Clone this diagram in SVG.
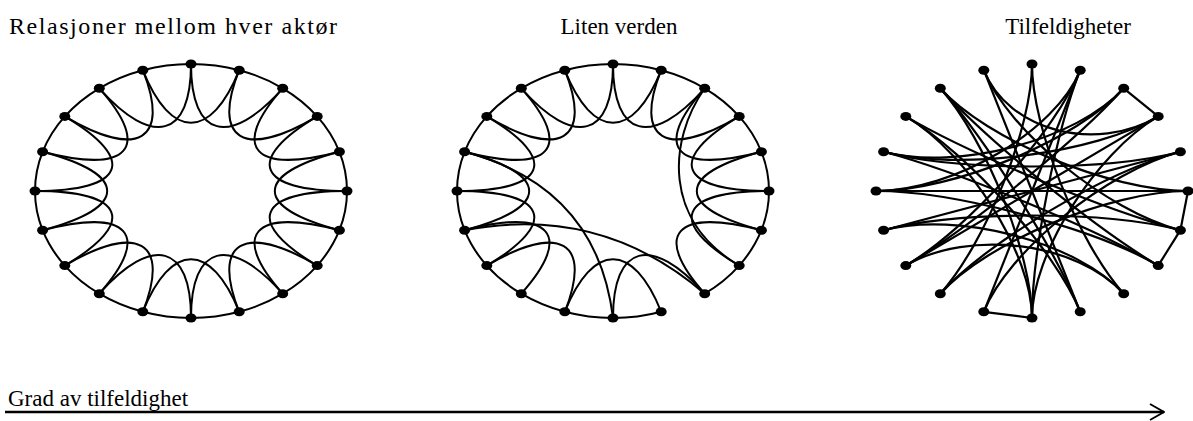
<svg xmlns="http://www.w3.org/2000/svg" width="1193" height="421" viewBox="0 0 1193 421">
<style>
.e{fill:none;stroke:#000;stroke-width:2}
.r{fill:none;stroke:#000;stroke-width:2.2}
.n{fill:#000}
.t{font-family:'Liberation Serif','Times New Roman',serif;font-size:23px;fill:#000}
</style>
<defs>
<marker id="chev" markerUnits="userSpaceOnUse" viewBox="0 0 16 18" refX="15" refY="9" markerWidth="16" markerHeight="18" orient="auto">
<path d="M1,1 L15,9 L1,17" fill="none" stroke="#000" stroke-width="2"/>
</marker>
</defs>
<rect width="1193" height="421" fill="#fff"/>
<g id="titles" font-family="Liberation Serif, Times New Roman, serif">
<text class="t" x="9" y="34" style="font-size:24px" textLength="328" lengthAdjust="spacing">Relasjoner mellom hver aktør</text>
<text class="t" x="619" y="34" text-anchor="middle">Liten verden</text>
<text class="t" x="1068" y="34" text-anchor="middle">Tilfeldigheter</text>
</g>
<g id="connectors">
<g id="g1-edges" transform="translate(191,191)">
<path class="e" d="M0,-127A156,127 0 0 1 48.2,-120.8"/>
<path class="e" d="M48.2,-120.8A156,127 0 0 1 91.7,-102.7"/>
<path class="e" d="M91.7,-102.7A156,127 0 0 1 126.2,-74.6"/>
<path class="e" d="M126.2,-74.6A156,127 0 0 1 148.4,-39.2"/>
<path class="e" d="M148.4,-39.2A156,127 0 0 1 156,0"/>
<path class="e" d="M156,0A156,127 0 0 1 148.4,39.2"/>
<path class="e" d="M148.4,39.2A156,127 0 0 1 126.2,74.6"/>
<path class="e" d="M126.2,74.6A156,127 0 0 1 91.7,102.7"/>
<path class="e" d="M91.7,102.7A156,127 0 0 1 48.2,120.8"/>
<path class="e" d="M48.2,120.8A156,127 0 0 1 0,127"/>
<path class="e" d="M0,127A156,127 0 0 1 -48.2,120.8"/>
<path class="e" d="M-48.2,120.8A156,127 0 0 1 -91.7,102.7"/>
<path class="e" d="M-91.7,102.7A156,127 0 0 1 -126.2,74.6"/>
<path class="e" d="M-126.2,74.6A156,127 0 0 1 -148.4,39.2"/>
<path class="e" d="M-148.4,39.2A156,127 0 0 1 -156,0"/>
<path class="e" d="M-156,0A156,127 0 0 1 -148.4,-39.2"/>
<path class="e" d="M-148.4,-39.2A156,127 0 0 1 -126.2,-74.6"/>
<path class="e" d="M-126.2,-74.6A156,127 0 0 1 -91.7,-102.7"/>
<path class="e" d="M-91.7,-102.7A156,127 0 0 1 -48.2,-120.8"/>
<path class="e" d="M-48.2,-120.8A156,127 0 0 1 0,-127"/>
<path class="e" d="M0,-127C0,-53.3 38.5,-43.1 91.7,-102.7"/>
<path class="e" d="M48.2,-120.8C20.2,-50.7 53,-31.3 126.2,-74.6"/>
<path class="e" d="M91.7,-102.7C38.5,-43.1 62.3,-16.5 148.4,-39.2"/>
<path class="e" d="M126.2,-74.6C53,-31.3 65.5,0 156,0"/>
<path class="e" d="M148.4,-39.2C62.3,-16.5 62.3,16.5 148.4,39.2"/>
<path class="e" d="M156,0C65.5,0 53,31.3 126.2,74.6"/>
<path class="e" d="M148.4,39.2C62.3,16.5 38.5,43.1 91.7,102.7"/>
<path class="e" d="M126.2,74.6C53,31.3 20.2,50.7 48.2,120.8"/>
<path class="e" d="M91.7,102.7C38.5,43.1 0,53.3 0,127"/>
<path class="e" d="M48.2,120.8C20.2,50.7 -20.2,50.7 -48.2,120.8"/>
<path class="e" d="M0,127C0,53.3 -38.5,43.1 -91.7,102.7"/>
<path class="e" d="M-48.2,120.8C-20.2,50.7 -53,31.3 -126.2,74.6"/>
<path class="e" d="M-91.7,102.7C-38.5,43.1 -62.3,16.5 -148.4,39.2"/>
<path class="e" d="M-126.2,74.6C-53,31.3 -65.5,0 -156,0"/>
<path class="e" d="M-148.4,39.2C-62.3,16.5 -62.3,-16.5 -148.4,-39.2"/>
<path class="e" d="M-156,0C-65.5,0 -53,-31.3 -126.2,-74.6"/>
<path class="e" d="M-148.4,-39.2C-62.3,-16.5 -38.5,-43.1 -91.7,-102.7"/>
<path class="e" d="M-126.2,-74.6C-53,-31.3 -20.2,-50.7 -48.2,-120.8"/>
<path class="e" d="M-91.7,-102.7C-38.5,-43.1 0,-53.3 0,-127"/>
<path class="e" d="M-48.2,-120.8C-20.2,-50.7 20.2,-50.7 48.2,-120.8"/>
</g>
<g id="g2-edges" transform="translate(613,191)">
<path class="e" d="M0,-127A156,127 0 0 1 48.2,-120.8"/>
<path class="e" d="M48.2,-120.8A156,127 0 0 1 91.7,-102.7"/>
<path class="e" d="M91.7,-102.7A156,127 0 0 1 126.2,-74.6"/>
<path class="e" d="M126.2,-74.6A156,127 0 0 1 148.4,-39.2"/>
<path class="e" d="M148.4,-39.2A156,127 0 0 1 156,0"/>
<path class="e" d="M156,0A156,127 0 0 1 148.4,39.2"/>
<path class="e" d="M148.4,39.2A156,127 0 0 1 126.2,74.6"/>
<path class="e" d="M126.2,74.6A156,127 0 0 1 91.7,102.7"/>
<path class="e" d="M48.2,120.8A156,127 0 0 1 0,127"/>
<path class="e" d="M0,127A156,127 0 0 1 -48.2,120.8"/>
<path class="e" d="M-48.2,120.8A156,127 0 0 1 -91.7,102.7"/>
<path class="e" d="M-91.7,102.7A156,127 0 0 1 -126.2,74.6"/>
<path class="e" d="M-126.2,74.6A156,127 0 0 1 -148.4,39.2"/>
<path class="e" d="M-148.4,39.2A156,127 0 0 1 -156,0"/>
<path class="e" d="M-156,0A156,127 0 0 1 -148.4,-39.2"/>
<path class="e" d="M-148.4,-39.2A156,127 0 0 1 -126.2,-74.6"/>
<path class="e" d="M-126.2,-74.6A156,127 0 0 1 -91.7,-102.7"/>
<path class="e" d="M-91.7,-102.7A156,127 0 0 1 -48.2,-120.8"/>
<path class="e" d="M-48.2,-120.8A156,127 0 0 1 0,-127"/>
<path class="e" d="M0,-127C0,-53.3 38.5,-43.1 91.7,-102.7"/>
<path class="e" d="M48.2,-120.8C20.2,-50.7 53,-31.3 126.2,-74.6"/>
<path class="e" d="M91.7,-102.7C38.5,-43.1 62.3,-16.5 148.4,-39.2"/>
<path class="e" d="M126.2,-74.6C53,-31.3 65.5,0 156,0"/>
<path class="e" d="M148.4,-39.2C62.3,-16.5 62.3,16.5 148.4,39.2"/>
<path class="e" d="M156,0C65.5,0 53,31.3 126.2,74.6"/>
<path class="e" d="M148.4,39.2C62.3,16.5 38.5,43.1 91.7,102.7"/>
<path class="e" d="M91.7,102.7C38.5,43.1 0,53.3 0,127"/>
<path class="e" d="M48.2,120.8C20.2,50.7 -20.2,50.7 -48.2,120.8"/>
<path class="e" d="M-48.2,120.8C-20.2,50.7 -53,31.3 -126.2,74.6"/>
<path class="e" d="M-91.7,102.7C-38.5,43.1 -62.3,16.5 -148.4,39.2"/>
<path class="e" d="M-126.2,74.6C-53,31.3 -65.5,0 -156,0"/>
<path class="e" d="M-148.4,39.2C-62.3,16.5 -62.3,-16.5 -148.4,-39.2"/>
<path class="e" d="M-156,0C-65.5,0 -53,-31.3 -126.2,-74.6"/>
<path class="e" d="M-148.4,-39.2C-62.3,-16.5 -38.5,-43.1 -91.7,-102.7"/>
<path class="e" d="M-126.2,-74.6C-53,-31.3 -20.2,-50.7 -48.2,-120.8"/>
<path class="e" d="M-91.7,-102.7C-38.5,-43.1 0,-53.3 0,-127"/>
<path class="e" d="M-48.2,-120.8C-20.2,-50.7 20.2,-50.7 48.2,-120.8"/>
<path class="e" d="M91.7,-102.7C55,-50 50,30 126.2,74.6"/>
<path class="e" d="M-148.4,-39.2Q-16,-4 0,127"/>
<path class="e" d="M-148.4,39.2Q-12,13 91.7,102.7"/>
</g>
<g id="g3-edges" transform="translate(1032,191)">
<path class="r" d="M91.7,-102.7L126.2,-74.6"/>
<path class="r" d="M156,0L148.4,39.2"/>
<path class="r" d="M148.4,39.2L126.2,74.6"/>
<path class="r" d="M0,127L-48.2,120.8"/>
<path class="r" d="M0,-127C0,-63.5 -45.9,51.4 -91.7,102.7"/>
<path class="r" d="M0,-127C0,-63.5 45.9,51.4 91.7,102.7"/>
<path class="r" d="M48.2,-120.8C24.1,-60.4 0,63.5 0,127"/>
<path class="r" d="M48.2,-120.8C24.1,-60.4 -24.1,60.4 -48.2,120.8"/>
<path class="r" d="M48.2,-120.8C24.1,-60.4 -63.1,37.3 -126.2,74.6"/>
<path class="r" d="M48.2,-120.8C24.1,-60.4 -78,0 -156,0"/>
<path class="r" d="M91.7,-102.7C45.9,-51.4 -63.1,37.3 -126.2,74.6"/>
<path class="r" d="M91.7,-102.7C45.9,-51.4 -74.2,-19.6 -148.4,-39.2"/>
<path class="r" d="M91.7,-102.7C45.9,-51.4 -78,0 -156,0"/>
<path class="r" d="M126.2,-74.6C63.1,-37.3 -24.1,-60.4 -48.2,-120.8"/>
<path class="r" d="M126.2,-74.6C63.1,-37.3 0,63.5 0,127"/>
<path class="r" d="M126.2,-74.6C63.1,-37.3 -74.2,-19.6 -148.4,-39.2"/>
<path class="r" d="M126.2,-74.6C63.1,-37.3 -63.1,37.3 -126.2,74.6"/>
<path class="r" d="M148.4,-39.2C74.2,-19.6 -74.2,-19.6 -148.4,-39.2"/>
<path class="r" d="M148.4,-39.2C74.2,-19.6 -74.2,19.6 -148.4,39.2"/>
<path class="r" d="M148.4,-39.2C74.2,-19.6 -45.9,51.4 -91.7,102.7"/>
<path class="r" d="M148.4,-39.2C74.2,-19.6 -24.1,60.4 -48.2,120.8"/>
<path class="r" d="M156,0C78,0 -78,0 -156,0"/>
<path class="r" d="M156,0C78,0 -45.9,-51.4 -91.7,-102.7"/>
<path class="r" d="M156,0C78,0 -45.9,51.4 -91.7,102.7"/>
<path class="r" d="M148.4,39.2C74.2,19.6 -63.1,-37.3 -126.2,-74.6"/>
<path class="r" d="M148.4,39.2C74.2,19.6 -24.1,-60.4 -48.2,-120.8"/>
<path class="r" d="M148.4,39.2C74.2,19.6 -74.2,19.6 -148.4,39.2"/>
<path class="r" d="M126.2,74.6C63.1,37.3 -45.9,-51.4 -91.7,-102.7"/>
<path class="r" d="M126.2,74.6C63.1,37.3 -78,0 -156,0"/>
<path class="r" d="M126.2,74.6C63.1,37.3 -74.2,-19.6 -148.4,-39.2"/>
<path class="r" d="M91.7,102.7C45.9,51.4 -74.2,19.6 -148.4,39.2"/>
<path class="r" d="M91.7,102.7C45.9,51.4 -63.1,37.3 -126.2,74.6"/>
<path class="r" d="M48.2,120.8C24.1,60.4 -63.1,-37.3 -126.2,-74.6"/>
<path class="r" d="M48.2,120.8C24.1,60.4 -45.9,-51.4 -91.7,-102.7"/>
<path class="r" d="M48.2,120.8C24.1,60.4 -24.1,-60.4 -48.2,-120.8"/>
<path class="r" d="M0,127C0,63.5 -63.1,-37.3 -126.2,-74.6"/>
<path class="r" d="M0,127C0,63.5 -45.9,-51.4 -91.7,-102.7"/>
</g>
<g id="axis">
<line x1="5" y1="412" x2="1164" y2="412" stroke="#000" stroke-width="2.5" marker-end="url(#chev)"/>
</g>
</g>
<g id="g1-nodes" transform="translate(191,191)">
<g id="a0"><ellipse class="n" cx="0" cy="-127" rx="5.5" ry="4.5"/></g>
<g id="a1"><ellipse class="n" cx="48.2" cy="-120.8" rx="5.5" ry="4.5"/></g>
<g id="a2"><ellipse class="n" cx="91.7" cy="-102.7" rx="5.5" ry="4.5"/></g>
<g id="a3"><ellipse class="n" cx="126.2" cy="-74.6" rx="5.5" ry="4.5"/></g>
<g id="a4"><ellipse class="n" cx="148.4" cy="-39.2" rx="5.5" ry="4.5"/></g>
<g id="a5"><ellipse class="n" cx="156" cy="0" rx="5.5" ry="4.5"/></g>
<g id="a6"><ellipse class="n" cx="148.4" cy="39.2" rx="5.5" ry="4.5"/></g>
<g id="a7"><ellipse class="n" cx="126.2" cy="74.6" rx="5.5" ry="4.5"/></g>
<g id="a8"><ellipse class="n" cx="91.7" cy="102.7" rx="5.5" ry="4.5"/></g>
<g id="a9"><ellipse class="n" cx="48.2" cy="120.8" rx="5.5" ry="4.5"/></g>
<g id="a10"><ellipse class="n" cx="0" cy="127" rx="5.5" ry="4.5"/></g>
<g id="a11"><ellipse class="n" cx="-48.2" cy="120.8" rx="5.5" ry="4.5"/></g>
<g id="a12"><ellipse class="n" cx="-91.7" cy="102.7" rx="5.5" ry="4.5"/></g>
<g id="a13"><ellipse class="n" cx="-126.2" cy="74.6" rx="5.5" ry="4.5"/></g>
<g id="a14"><ellipse class="n" cx="-148.4" cy="39.2" rx="5.5" ry="4.5"/></g>
<g id="a15"><ellipse class="n" cx="-156" cy="0" rx="5.5" ry="4.5"/></g>
<g id="a16"><ellipse class="n" cx="-148.4" cy="-39.2" rx="5.5" ry="4.5"/></g>
<g id="a17"><ellipse class="n" cx="-126.2" cy="-74.6" rx="5.5" ry="4.5"/></g>
<g id="a18"><ellipse class="n" cx="-91.7" cy="-102.7" rx="5.5" ry="4.5"/></g>
<g id="a19"><ellipse class="n" cx="-48.2" cy="-120.8" rx="5.5" ry="4.5"/></g>
</g>
<g id="g2-nodes" transform="translate(613,191)">
<g id="b0"><ellipse class="n" cx="0" cy="-127" rx="5.5" ry="4.5"/></g>
<g id="b1"><ellipse class="n" cx="48.2" cy="-120.8" rx="5.5" ry="4.5"/></g>
<g id="b2"><ellipse class="n" cx="91.7" cy="-102.7" rx="5.5" ry="4.5"/></g>
<g id="b3"><ellipse class="n" cx="126.2" cy="-74.6" rx="5.5" ry="4.5"/></g>
<g id="b4"><ellipse class="n" cx="148.4" cy="-39.2" rx="5.5" ry="4.5"/></g>
<g id="b5"><ellipse class="n" cx="156" cy="0" rx="5.5" ry="4.5"/></g>
<g id="b6"><ellipse class="n" cx="148.4" cy="39.2" rx="5.5" ry="4.5"/></g>
<g id="b7"><ellipse class="n" cx="126.2" cy="74.6" rx="5.5" ry="4.5"/></g>
<g id="b8"><ellipse class="n" cx="91.7" cy="102.7" rx="5.5" ry="4.5"/></g>
<g id="b9"><ellipse class="n" cx="48.2" cy="120.8" rx="5.5" ry="4.5"/></g>
<g id="b10"><ellipse class="n" cx="0" cy="127" rx="5.5" ry="4.5"/></g>
<g id="b11"><ellipse class="n" cx="-48.2" cy="120.8" rx="5.5" ry="4.5"/></g>
<g id="b12"><ellipse class="n" cx="-91.7" cy="102.7" rx="5.5" ry="4.5"/></g>
<g id="b13"><ellipse class="n" cx="-126.2" cy="74.6" rx="5.5" ry="4.5"/></g>
<g id="b14"><ellipse class="n" cx="-148.4" cy="39.2" rx="5.5" ry="4.5"/></g>
<g id="b15"><ellipse class="n" cx="-156" cy="0" rx="5.5" ry="4.5"/></g>
<g id="b16"><ellipse class="n" cx="-148.4" cy="-39.2" rx="5.5" ry="4.5"/></g>
<g id="b17"><ellipse class="n" cx="-126.2" cy="-74.6" rx="5.5" ry="4.5"/></g>
<g id="b18"><ellipse class="n" cx="-91.7" cy="-102.7" rx="5.5" ry="4.5"/></g>
<g id="b19"><ellipse class="n" cx="-48.2" cy="-120.8" rx="5.5" ry="4.5"/></g>
</g>
<g id="g3-nodes" transform="translate(1032,191)">
<g id="c0"><ellipse class="n" cx="0" cy="-127" rx="5.5" ry="4.5"/></g>
<g id="c1"><ellipse class="n" cx="48.2" cy="-120.8" rx="5.5" ry="4.5"/></g>
<g id="c2"><ellipse class="n" cx="91.7" cy="-102.7" rx="5.5" ry="4.5"/></g>
<g id="c3"><ellipse class="n" cx="126.2" cy="-74.6" rx="5.5" ry="4.5"/></g>
<g id="c4"><ellipse class="n" cx="148.4" cy="-39.2" rx="5.5" ry="4.5"/></g>
<g id="c5"><ellipse class="n" cx="156" cy="0" rx="5.5" ry="4.5"/></g>
<g id="c6"><ellipse class="n" cx="148.4" cy="39.2" rx="5.5" ry="4.5"/></g>
<g id="c7"><ellipse class="n" cx="126.2" cy="74.6" rx="5.5" ry="4.5"/></g>
<g id="c8"><ellipse class="n" cx="91.7" cy="102.7" rx="5.5" ry="4.5"/></g>
<g id="c9"><ellipse class="n" cx="48.2" cy="120.8" rx="5.5" ry="4.5"/></g>
<g id="c10"><ellipse class="n" cx="0" cy="127" rx="5.5" ry="4.5"/></g>
<g id="c11"><ellipse class="n" cx="-48.2" cy="120.8" rx="5.5" ry="4.5"/></g>
<g id="c12"><ellipse class="n" cx="-91.7" cy="102.7" rx="5.5" ry="4.5"/></g>
<g id="c13"><ellipse class="n" cx="-126.2" cy="74.6" rx="5.5" ry="4.5"/></g>
<g id="c14"><ellipse class="n" cx="-148.4" cy="39.2" rx="5.5" ry="4.5"/></g>
<g id="c15"><ellipse class="n" cx="-156" cy="0" rx="5.5" ry="4.5"/></g>
<g id="c16"><ellipse class="n" cx="-148.4" cy="-39.2" rx="5.5" ry="4.5"/></g>
<g id="c17"><ellipse class="n" cx="-126.2" cy="-74.6" rx="5.5" ry="4.5"/></g>
<g id="c18"><ellipse class="n" cx="-91.7" cy="-102.7" rx="5.5" ry="4.5"/></g>
<g id="c19"><ellipse class="n" cx="-48.2" cy="-120.8" rx="5.5" ry="4.5"/></g>
</g>
<g id="axis-label" font-family="Liberation Serif, Times New Roman, serif">
<text class="t" x="8" y="406">Grad av tilfeldighet</text>
</g>
</svg>
